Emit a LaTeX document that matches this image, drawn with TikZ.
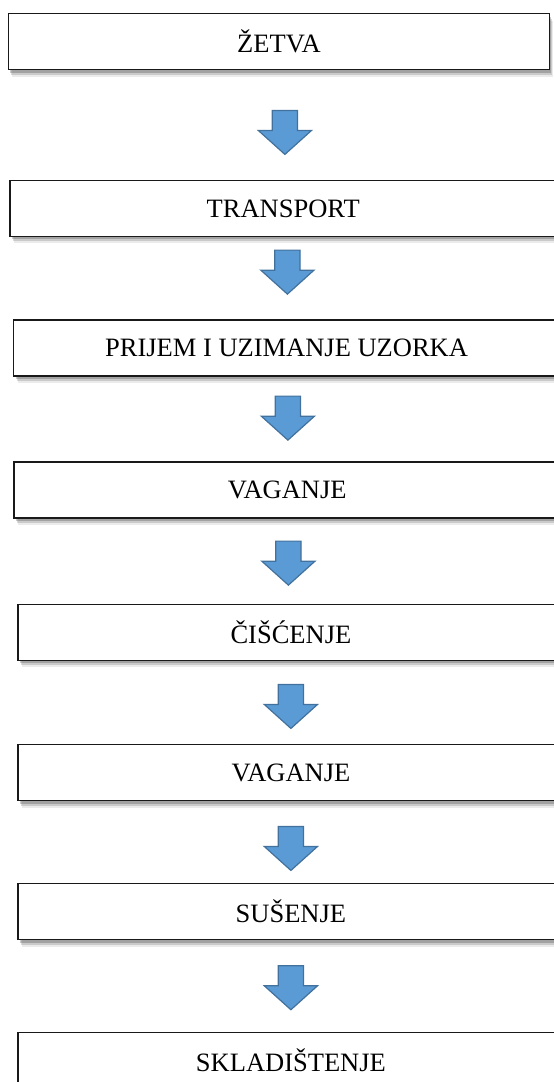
\documentclass[tikz,border=0pt]{standalone}
\usepackage{fontspec}
\setmainfont{Liberation Serif}
\usepackage{tikz}
\usetikzlibrary{positioning,shapes.arrows,shadows}
\definecolor{arrfill}{HTML}{5B9BD5}
\definecolor{arrline}{HTML}{41719C}

\begin{document}
\begin{tikzpicture}[
  box/.style={draw=black!90, line width=1.5pt, fill=white, minimum height=56pt, minimum width=546pt,
    inner sep=0pt, outer sep=0pt, font=\fontsize{26.5pt}{30pt}\selectfont,
    general shadow={shadow xshift=4pt, shadow yshift=-7pt, fill=black, opacity=.08},
    general shadow={shadow xshift=3pt, shadow yshift=-5pt, fill=black, opacity=.14},
    general shadow={shadow xshift=2pt, shadow yshift=-3pt, fill=black, opacity=.2}},
  downarr/.style={single arrow, shape border rotate=270, draw=arrline, line width=1.2pt, fill=arrfill,
    inner sep=12pt, outer sep=0pt, minimum height=44pt, single arrow head extend=14pt, single arrow tip angle=96}
]
\useasboundingbox (0,0) rectangle (554pt,-1082pt);
\clip (0,0) rectangle (554pt,-1082pt);
% steps, top to bottom
\node[box, anchor=north, minimum width=541pt] (zetva) at (278.9pt,-13.7pt) {ŽETVA};
\node[downarr, below=40.7pt of zetva, xshift=6pt] (a1) {};
\node[box, below=26pt of a1, xshift=-1.7pt] (transport) {TRANSPORT};
\node[downarr, below=13.7pt of transport, xshift=4.2pt] (a2) {};
\node[box, below=26pt of a2, xshift=-0.8pt] (prijem) {PRIJEM I UZIMANJE UZORKA};
\node[downarr, below=20pt of prijem, xshift=1.3pt] (a3) {};
\node[box, below=21.7pt of a3, xshift=-0.7pt] (vag1) {VAGANJE};
\node[downarr, below=23.3pt of vag1, xshift=1.2pt] (a4) {};
\node[box, below=19.3pt of a4, xshift=2.5pt] (ciscenje) {ČIŠĆENJE};
\node[downarr, below=24pt of ciscenje] (a5) {};
\node[box, below=16.3pt of a5] (vag2) {VAGANJE};
\node[downarr, below=25.7pt of vag2] (a6) {};
\node[box, below=13.3pt of a6] (susenje) {SUŠENJE};
\node[downarr, below=26pt of susenje] (a7) {};
\node[box, below=22.7pt of a7] (skladistenje) {SKLADIŠTENJE};
\end{tikzpicture}
\end{document}
